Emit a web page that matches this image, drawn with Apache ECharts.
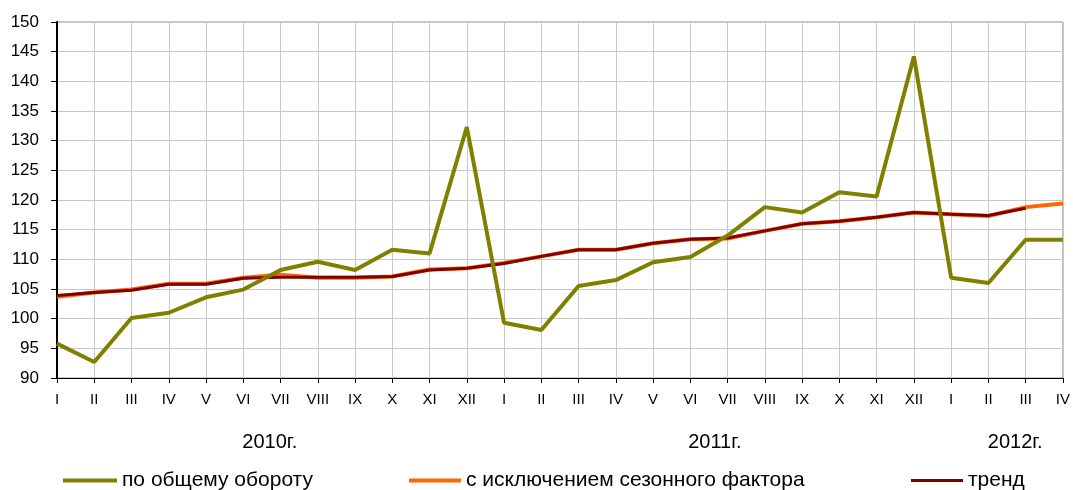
<!DOCTYPE html>
<html>
<head>
<meta charset="utf-8">
<script src="https://cdn.jsdelivr.net/npm/echarts@6/dist/echarts.min.js"></script>
<style>
html,body{margin:0;padding:0;background:#fff;}
#c{width:1073px;height:490px;}
</style>
</head>
<body>
<div id="c"></div>
<script>
var months = ['I','II','III','IV','V','VI','VII','VIII','IX','X','XI','XII',
              'I','II','III','IV','V','VI','VII','VIII','IX','X','XI','XII',
              'I','II','III','IV'];
var yearLabels = ['2010г.', '2011г.', '2012г.'];
var seriesNames = ['по общему обороту', 'с исключением сезонного фактора', 'тренд'];
var total = [95.8, 92.7, 100.1, 101.0, 103.6, 104.9, 108.2, 109.6, 108.2, 111.6, 111.0, 132.3,
             99.3, 98.1, 105.5, 106.5, 109.5, 110.4, 114.0, 118.8, 117.9, 121.3, 120.6, 144.2,
             106.9, 106.0, 113.3, 113.3];
var seasonal = [103.7, 104.4, 104.9, 105.9, 105.9, 106.9, 107.4, 106.9, 106.9, 107.1, 108.3, 108.5,
                109.4, 110.5, 111.6, 111.6, 112.7, 113.4, 113.5, 114.8, 116.0, 116.4, 117.1, 117.9,
                117.6, 117.3, 118.8, 119.4];
var trend = [103.9, 104.4, 104.8, 105.8, 105.8, 106.8, 107.0, 107.0, 107.0, 107.1, 108.2, 108.5,
             109.3, 110.5, 111.6, 111.6, 112.7, 113.4, 113.6, 114.8, 116.0, 116.4, 117.1, 117.9,
             117.6, 117.4, 118.6, null];

var font = 'Liberation Sans, Arial, sans-serif';
var chart = echarts.init(document.getElementById('c'));
var legendText = {fontFamily: font, fontSize: 21, color: '#000'};
var yearPos = [5.71, 17.66, 25.72];
chart.setOption({
  animation: false,
  backgroundColor: '#fff',
  grid: {left: 57, right: 4, top: 22, bottom: 112, show: true, borderColor: '#909090', borderWidth: 1, containLabel: false},
  legend: [
    {data: [seriesNames[0]], left: 58, top: 465, icon: 'rect', itemWidth: 54, itemHeight: 4, itemGap: 6, textStyle: legendText},
    {data: [seriesNames[1]], left: 404, top: 465, icon: 'rect', itemWidth: 52, itemHeight: 4, textStyle: legendText},
    {data: [seriesNames[2]], left: 906, top: 465, icon: 'rect', itemWidth: 52, itemHeight: 3, textStyle: legendText}
  ],
  xAxis: [
    {
      type: 'category', data: months, boundaryGap: false,
      axisLine: {lineStyle: {color: '#000', width: 1}},
      axisTick: {show: true, length: 5, lineStyle: {color: '#000'}},
      axisLabel: {interval: 0, color: '#000', fontFamily: font, fontSize: 15, margin: 14},
      splitLine: {show: true, lineStyle: {color: '#c8c8c8', width: 1}}
    },
    {
      type: 'value', min: 0, max: 27, position: 'bottom', offset: 46,
      axisLine: {show: false}, axisTick: {show: false}, splitLine: {show: false},
      axisLabel: {
        customValues: yearPos,
        color: '#000', fontFamily: font, fontSize: 20,
        formatter: function (v) {
          for (var i = 0; i < yearPos.length; i++) { if (Math.abs(v - yearPos[i]) < 0.01) return yearLabels[i]; }
          return '';
        }
      }
    }
  ],
  yAxis: {
    type: 'value', min: 90, max: 150, interval: 5,
    axisLine: {show: true, lineStyle: {color: '#000', width: 2}},
    axisTick: {show: true, length: 6, lineStyle: {color: '#000'}},
    axisLabel: {color: '#000', fontFamily: font, fontSize: 17, margin: 18},
    splitLine: {show: true, lineStyle: {color: '#c8c8c8', width: 1}}
  },
  series: [
    {name: seriesNames[0], type: 'line', data: total, showSymbol: false, z: 5,
     itemStyle: {color: '#808000'}, lineStyle: {color: '#808000', width: 4}},
    {name: seriesNames[1], type: 'line', data: seasonal, showSymbol: false, z: 3,
     itemStyle: {color: '#ff6600'}, lineStyle: {color: '#ff6600', width: 4}},
    {name: seriesNames[2], type: 'line', data: trend, showSymbol: false, z: 4,
     itemStyle: {color: '#800000'}, lineStyle: {color: '#800000', width: 3}}
  ]
});
</script>
</body>
</html>
